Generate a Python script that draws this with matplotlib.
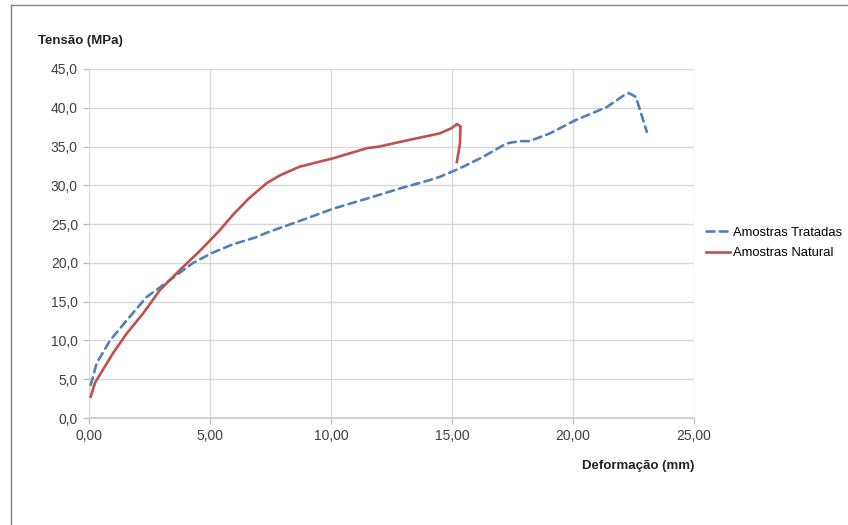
import matplotlib.pyplot as plt
from matplotlib.lines import Line2D
from matplotlib.ticker import FuncFormatter

plt.rcParams['font.family'] = ['Liberation Sans', 'DejaVu Sans']

# Amostras Tratadas (dashed blue)
trat_x = [0.07, 0.32, 0.87, 1.56, 2.38, 3.35, 4.3, 5.1, 5.95, 6.9, 7.35, 8.7,
          10.1, 11.5, 12.85, 14.0, 14.5, 15.33, 16.3, 17.25, 17.8, 18.2, 19.05,
          20.1, 21.4, 22.1, 22.3, 22.6, 23.05]
trat_y = [4.25, 7.1, 10.0, 12.6, 15.6, 17.8, 20.0, 21.3, 22.4, 23.3, 23.9, 25.4,
          27.0, 28.3, 29.6, 30.6, 31.1, 32.2, 33.7, 35.4, 35.7, 35.7, 36.7,
          38.4, 40.1, 41.6, 41.9, 41.4, 36.9]

# Amostras Natural (solid red)
nat_x = [0.07, 0.25, 1.0, 1.56, 2.24, 2.93, 3.76, 4.6, 5.4, 5.95, 6.6, 7.35,
         7.9, 8.7, 10.1, 11.5, 12.0, 12.85, 14.5, 15.0, 15.2, 15.35, 15.33, 15.2]
nat_y = [2.75, 4.55, 8.4, 10.9, 13.5, 16.5, 19.1, 21.6, 24.2, 26.2, 28.3, 30.3,
         31.3, 32.4, 33.5, 34.8, 35.0, 35.6, 36.7, 37.4, 37.9, 37.6, 35.4, 33.0]

x_ticks = [0, 5, 10, 15, 20, 25]
y_ticks = [0, 5, 10, 15, 20, 25, 30, 35, 40, 45]

blue = '#4F81BD'
red = '#C0504D'
dash = (0, (3.0, 2.0))

fig = plt.figure(figsize=(8.48, 5.25), dpi=100)
ax = fig.add_axes([89/848, 1-418/525, (694-89)/848, (418-69)/525])

ax.plot(trat_x, trat_y, color=blue, lw=1.9, ls=dash,
        dash_capstyle='round', label='Amostras Tratadas', zorder=3)
ax.plot(nat_x, nat_y, color=red, lw=1.9, solid_joinstyle='round',
        label='Amostras Natural', zorder=3)

ax.set_xlim(0, 25)
ax.set_ylim(0, 45)
ax.set_xticks(x_ticks)
ax.set_yticks(y_ticks)
ax.xaxis.set_major_formatter(FuncFormatter(lambda v, p: ('%.2f' % v).replace('.', ',')))
ax.yaxis.set_major_formatter(FuncFormatter(lambda v, p: ('%.1f' % v).replace('.', ',')))
ax.grid(True, color='#d9d9d9', lw=1.0, zorder=0)
ax.set_axisbelow(True)
for s in ['top', 'right', 'left']:
    ax.spines[s].set_visible(False)
ax.spines['bottom'].set_color('#d0d0d0')
ax.spines['bottom'].set_linewidth(1.5)
ax.tick_params(axis='both', colors='#bfbfbf', labelcolor='#404040', labelsize=10,
               length=4, width=1)
ax.tick_params(axis='x', pad=4)
ax.tick_params(axis='y', pad=4)

fig.text(38/848, 1-41/525, 'Tensão (MPa)', fontsize=9.5, fontweight='bold',
         color='#222222', va='center', ha='left')
fig.text(694/848, 1-466/525, 'Deformação (mm)', fontsize=9.5, fontweight='bold',
         color='#222222', va='center', ha='right')

handles = [Line2D([0], [0], color=blue, lw=1.9, ls=dash, dash_capstyle='round'),
           Line2D([0], [0], color=red, lw=1.9)]
fig.legend(handles, ['Amostras Tratadas', 'Amostras Natural'],
           loc='center left', bbox_to_anchor=(706/848, 1-243/525),
           frameon=False, fontsize=9.4, handlelength=1.8, handletextpad=0.3,
           labelspacing=0.62, borderaxespad=0, borderpad=0)

# page frame around the chart
fig.add_artist(Line2D([11/848, 1], [1-5/525, 1-5/525], color='#808080', lw=1))
fig.add_artist(Line2D([11/848, 11/848], [0, 1-5/525], color='#808080', lw=1))

fig.savefig('out.png', dpi=100)
